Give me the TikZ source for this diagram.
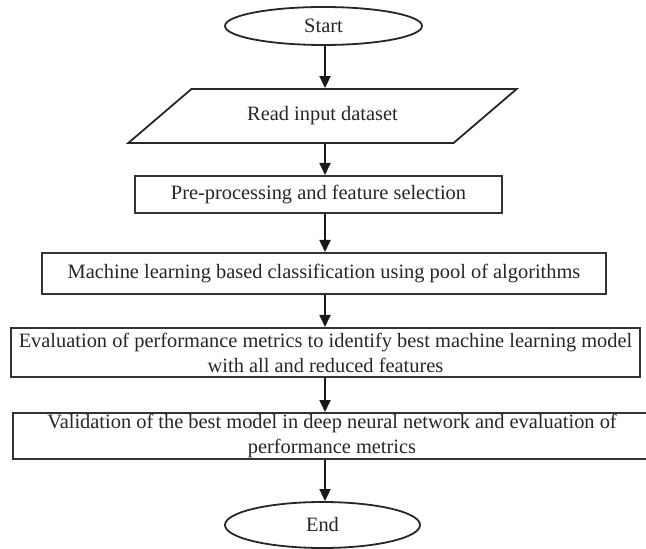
\documentclass[tikz,border=0pt]{standalone}
\usepackage{fontspec}
\setmainfont{Liberation Serif}
\usetikzlibrary{shapes.geometric,arrows.meta}

\tikzset{
  flowtext/.style={text=black!85, font=\fontsize{10.2}{12.5}\selectfont},
  terminal/.style={draw=black!85, line width=0.9pt, ellipse, inner sep=0pt, flowtext},
  iobox/.style={draw=black!85, line width=0.9pt, trapezium, trapezium left angle=27,
    trapezium right angle=153, trapezium stretches=true, inner sep=0pt, flowtext},
  stepbox/.style={draw=black!80, line width=1pt, rectangle, inner sep=0pt, align=center, flowtext},
  flowarrow/.style={black!90, line width=0.9pt, -{Triangle[length=6pt,width=5.5pt]}}
}

\begin{document}
\begin{tikzpicture}[x=0.5pt,y=-0.5pt]

            % Page frame
            \useasboundingbox (0,0) rectangle (646,549);
            \coordinate (spine) at (325,0);

            % Start and input
            \node[terminal, minimum width=98.5pt, minimum height=19pt] (start) at (323.5,26) {Start};
            \node[iobox, minimum width=194.5pt, minimum height=27pt] (read) at (322.5,116) {Read input dataset};

            % Processing steps
            \node[stepbox, minimum width=183.5pt, minimum height=18.5pt] (prep) at (318.5,194.5) {Pre-processing and feature selection};
            \node[stepbox, minimum width=282pt, minimum height=20.5pt] (classify) at (324,273.5) {Machine learning based classification using pool of algorithms};
            \node[stepbox, minimum width=314.5pt, minimum height=24.5pt] (evaluate) at (325.5,352.5) {Evaluation of performance metrics to identify best machine learning model\\with all and reduced features};
            \node[stepbox, minimum width=319pt, minimum height=23pt] (validate) at (332,436) {Validation of the best model in deep neural network and evaluation of\\performance metrics};

            % End
            \node[terminal, minimum width=97.5pt, minimum height=23pt] (end) at (322.5,525) {End};

            % Arrows down the spine
            \draw[flowarrow] (start.south -| spine) -- (read.north -| spine);
            \draw[flowarrow] (read.south -| spine) -- (prep.north -| spine);
            \draw[flowarrow] (prep.south -| spine) -- (classify.north -| spine);
            \draw[flowarrow] (classify.south -| spine) -- (evaluate.north -| spine);
            \draw[flowarrow] (evaluate.south -| spine) -- (validate.north -| spine);
            \draw[flowarrow] (validate.south -| spine) -- (end.north -| spine);

\end{tikzpicture}
\end{document}
